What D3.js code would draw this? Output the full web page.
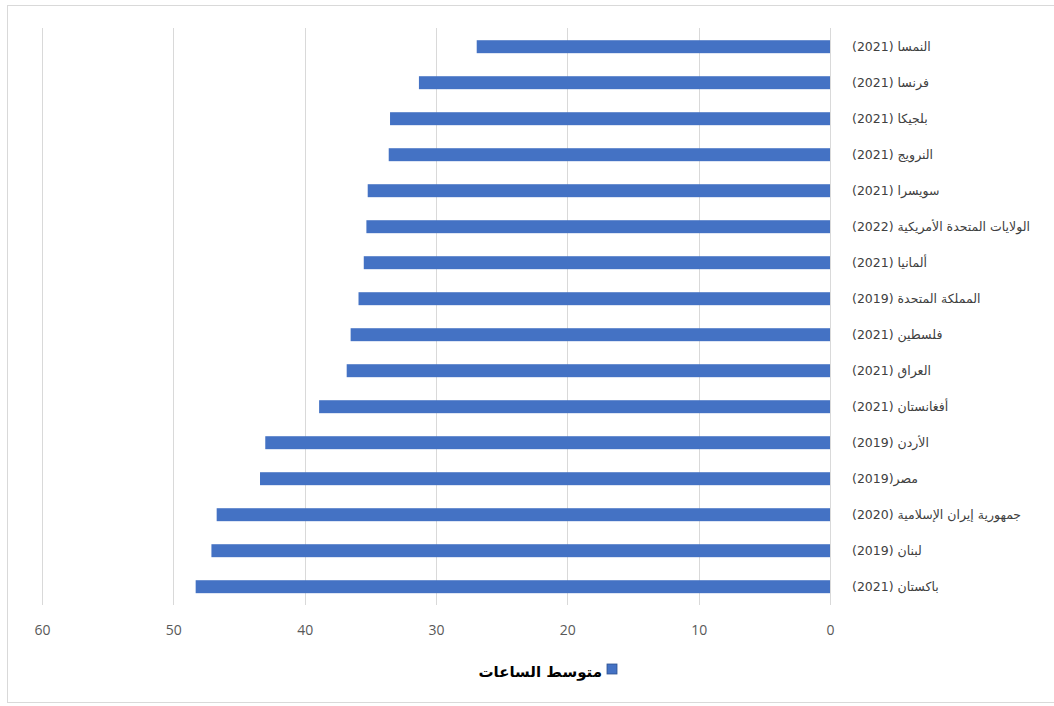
<!DOCTYPE html>
<html>
<head>
<meta charset="utf-8">
<script src="https://cdn.jsdelivr.net/npm/d3@7"></script>
<style>
  html, body { margin: 0; padding: 0; background: #fff; }
  svg { display: block; }
</style>
</head>
<body>
<svg id="chart" width="1054" height="706"></svg>
<script>
const categories = [
  "النمسا (2021)",
  "فرنسا (2021)",
  "بلجيكا (2021)",
  "النرويج (2021)",
  "سويسرا (2021)",
  "الولايات المتحدة الأمريكية (2022)",
  "ألمانيا (2021)",
  "المملكة المتحدة (2019)",
  "فلسطين (2021)",
  "العراق (2021)",
  "أفغانستان (2021)",
  "الأردن (2019)",
  "مصر(2019)",
  "جمهورية إيران الإسلامية (2020)",
  "لبنان (2019)",
  "باكستان (2021)"
];
const hours = [26.9, 31.3, 33.5, 33.6, 35.2, 35.3, 35.5, 35.9, 36.5, 36.8, 38.9, 43.0, 43.4, 46.7, 47.1, 48.3];
const tickValues = [0, 10, 20, 30, 40, 50, 60];
const seriesName = "متوسط الساعات";

const svg = d3.select("#chart");

// outer border
svg.append("rect").attr("x", 7.5).attr("y", 5.5).attr("width", 1060).attr("height", 697)
  .attr("fill", "#fff").attr("stroke", "#d9d9d9").attr("stroke-width", 1);

const x = d3.scaleLinear().domain([0, 60]).range([830, 42]);
const y = d3.scaleBand().domain(categories).range([28.7, 604.7]).paddingInner(0.64).paddingOuter(0.32);

// gridlines
svg.append("g").selectAll("line").data(tickValues).join("line")
  .attr("x1", d => Math.round(x(d)) + 0.5).attr("x2", d => Math.round(x(d)) + 0.5)
  .attr("y1", 28).attr("y2", 605)
  .attr("stroke", "#d9d9d9").attr("stroke-width", 1);

// bars
svg.append("g").selectAll("rect").data(hours).join("rect")
  .attr("x", d => x(d))
  .attr("y", (d, i) => y(categories[i]))
  .attr("width", d => x(0) - x(d))
  .attr("height", y.bandwidth())
  .attr("fill", "#4472C4");

// x axis tick labels
const xAxis = d3.axisBottom(x).tickValues(tickValues).tickSize(0).tickPadding(0);
const gx = svg.append("g").attr("transform", "translate(0,625)").call(xAxis);
gx.select(".domain").remove();
gx.selectAll("text")
  .attr("dy", "0.71em")
  .attr("fill", "#595959")
  .style("font-family", "'Open Sans', 'DejaVu Sans', sans-serif")
  .style("font-size", "14px");

// category labels (right side)
const yAxis = d3.axisRight(y).tickSize(0).tickPadding(0);
const gy = svg.append("g").attr("transform", "translate(852,0)").call(yAxis);
gy.select(".domain").remove();
gy.selectAll("text")
  .attr("direction", "rtl")
  .attr("text-anchor", "end")
  .attr("x", 0)
  .attr("fill", "#404040")
  .style("font-family", "'DejaVu Sans', sans-serif")
  .style("font-size", "12.5px");

// legend
const lg = svg.append("g");
lg.append("rect").attr("x", 607).attr("y", 664).attr("width", 10).attr("height", 10)
  .attr("fill", "#4472C4").attr("stroke", "#2f528f").attr("stroke-width", 0.8);
lg.append("text").attr("x", 602).attr("y", 677)
  .attr("direction", "rtl").attr("text-anchor", "start")
  .attr("fill", "#000")
  .style("font-family", "'DejaVu Sans', sans-serif")
  .style("font-size", "15px").style("font-weight", "bold")
  .text(seriesName);
</script>
</body>
</html>
